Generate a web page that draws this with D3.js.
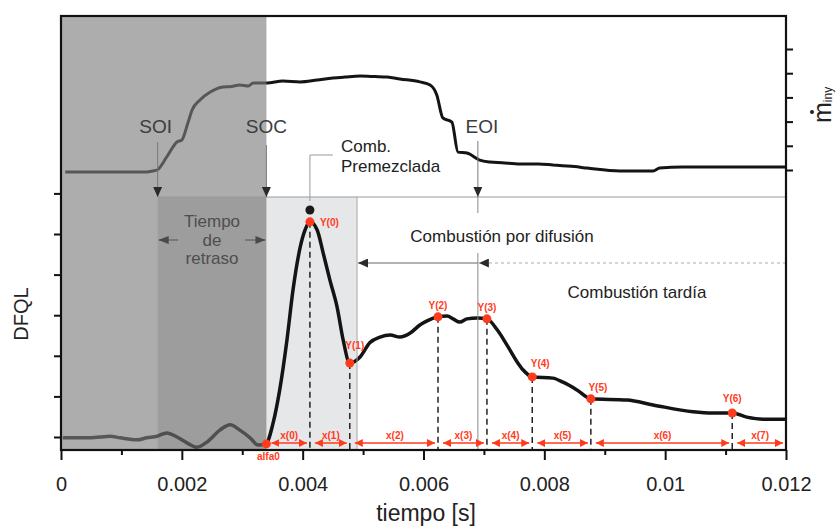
<!DOCTYPE html>
<html>
<head>
<meta charset="utf-8">
<script src="https://cdn.jsdelivr.net/npm/d3@7"></script>
<style>
  body { margin: 0; background: #fff; }
  svg { display: block; font-family: "Liberation Sans", Arial, Helvetica, sans-serif; }
</style>
</head>
<body>
<svg id="chart"></svg>
<script>
// ---- data ----
var xTickValues = [0, 0.002, 0.004, 0.006, 0.008, 0.01, 0.012];
var xTickLabels = ["0", "0.002", "0.004", "0.006", "0.008", "0.01", "0.012"];
var xMinorTicks = [0.001, 0.003, 0.005, 0.007, 0.009, 0.011];
var dfqlTicks = [0, 1, 2, 3, 4, 5, 6];
var minyTicks = [0, 1, 2, 3, 4, 5];

// injection rate (upper trace)
var minyTime = [0.00007, 0.00043, 0.00142, 0.00152, 0.00159, 0.00175, 0.00192, 0.00200, 0.00210, 0.00217,
    0.00230, 0.00247, 0.00268, 0.00282, 0.00296, 0.00310, 0.00318, 0.00341, 0.00367, 0.00396, 0.00424,
    0.00450, 0.00470, 0.00495, 0.00520, 0.00540, 0.00561, 0.00594, 0.00611, 0.00622, 0.00632, 0.00647,
    0.00657, 0.00672, 0.00693, 0.00710, 0.00730, 0.00760, 0.00790, 0.00814, 0.00850, 0.00871, 0.00925,
    0.00980, 0.00991, 0.01029, 0.01200];
var minyValue = [-0.08, -0.08, -0.08, -0.04, 0, 0.54, 1.16, 1.24, 1.94, 2.48,
    2.89, 3.22, 3.43, 3.45, 3.51, 3.47, 3.60, 3.60, 3.68, 3.64, 3.72,
    3.80, 3.84, 3.88, 3.86, 3.84, 3.76, 3.64, 3.51, 3.10, 2.15, 1.98,
    0.74, 0.70, 0.41, 0.33, 0.30, 0.25, 0.25, 0.21, 0.14, 0.08, -0.04,
    -0.04, 0.08, 0.12, 0.12];

// heat release rate (lower trace)
var dfqlTime = [0.00003, 0.00043, 0.00065, 0.00081, 0.00098, 0.00126, 0.00142, 0.00159, 0.00175, 0.00192,
    0.00209, 0.00225, 0.00242, 0.00263, 0.00280, 0.00296, 0.00313, 0.00326, 0.00339, 0.00351,
    0.00362, 0.00374, 0.00384, 0.00396, 0.00404, 0.00412, 0.00424, 0.00434, 0.00445, 0.00457,
    0.00467, 0.00478, 0.00495, 0.00511, 0.00528, 0.00545, 0.00561, 0.00578, 0.00594, 0.00606,
    0.00624, 0.00639, 0.00649, 0.00660, 0.00672, 0.00689, 0.00705, 0.00722, 0.00738, 0.00755,
    0.00765, 0.00780, 0.00814, 0.00831, 0.00854, 0.00877, 0.00937, 0.00980, 0.01046, 0.01079,
    0.01111, 0.01135, 0.01162, 0.01200];
var dfqlValue = [-0.02, -0.02, 0, 0.02, -0.02, -0.07, -0.02, 0.02, 0.10, 0,
    -0.15, -0.25, -0.12, 0.17, 0.30, 0.17, -0.02, -0.20, -0.17, 0.34,
    1.16, 2.39, 3.62, 4.68, 5.10, 5.30, 5.10, 4.53, 3.87, 3.20,
    2.39, 1.82, 1.97, 2.32, 2.46, 2.51, 2.46, 2.56, 2.76, 2.86,
    2.96, 2.98, 2.91, 2.83, 2.91, 2.93, 2.91, 2.64, 2.27, 1.85,
    1.65, 1.48, 1.45, 1.35, 1.16, 0.94, 0.91, 0.79, 0.62, 0.59,
    0.59, 0.49, 0.44, 0.44];

// events
var eventNames = ["SOI", "SOC", "EOI"];
var eventTimes = [0.0016, 0.0034, 0.0069];
var premixEnd = 0.0049;
var peakMarker = [0.00412, 5.59];

// characteristic points and intervals
var pointLabels = ["alfa0", "Y(0)", "Y(1)", "Y(2)", "Y(3)", "Y(4)", "Y(5)", "Y(6)"];
var pointTimes = [0.0034, 0.00412, 0.00478, 0.00624, 0.00705, 0.0078, 0.00877, 0.01111];
var pointValues = [-0.17, 5.30, 1.82, 2.96, 2.91, 1.48, 0.94, 0.59];
var intervalLabels = ["x(0)", "x(1)", "x(2)", "x(3)", "x(4)", "x(5)", "x(6)", "x(7)"];
var endTime = 0.012;

// ---- layout ----
var W = 836, H = 527;
var plotLeft = 61, plotRight = 786, plotTop = 16, plotBottom = 450, boxTop = 197;
var red = "#ff3b1d";

var x = d3.scaleLinear().domain([0, 0.012]).range([plotLeft, plotRight]);
var yD = d3.scaleLinear().domain([0, 6]).range([437, 193.4]);
var yM = d3.scaleLinear().domain([0, 5]).range([170, 49]);

var svg = d3.select("#chart").attr("width", W).attr("height", H);

var defs = svg.append("defs");
function marker(id, color, w, h) {
    defs.append("marker")
        .attr("id", id)
        .attr("viewBox", "0 0 10 10")
        .attr("preserveAspectRatio", "none")
        .attr("refX", 10).attr("refY", 5)
        .attr("markerWidth", w).attr("markerHeight", h)
        .attr("markerUnits", "userSpaceOnUse")
        .attr("orient", "auto-start-reverse")
        .append("path")
        .attr("d", "M0,0 L10,5 L0,10 Z")
        .attr("fill", color);
}
marker("headDark", "#2a2a2a", 10, 9);
marker("headGray", "#4a4a4a", 10, 8);
marker("headRed", red, 8, 8);

// premixed combustion box
svg.append("rect")
    .attr("x", x(eventTimes[1])).attr("y", boxTop)
    .attr("width", x(premixEnd) - x(eventTimes[1])).attr("height", plotBottom - boxTop)
    .attr("fill", "#e6e7e9");

// traces
var lineM = d3.line().x(function (d, i) { return x(minyTime[i]); })
    .y(function (d) { return yM(d); }).curve(d3.curveMonotoneX);
var lineD = d3.line().x(function (d, i) { return x(dfqlTime[i]); })
    .y(function (d) { return yD(d); }).curve(d3.curveMonotoneX);

svg.append("path").datum(minyValue).attr("d", lineM)
    .attr("fill", "none").attr("stroke", "#141414").attr("stroke-width", 3).attr("stroke-linejoin", "round");
svg.append("path").datum(dfqlValue).attr("d", lineD)
    .attr("fill", "none").attr("stroke", "#141414").attr("stroke-width", 3.5).attr("stroke-linejoin", "round");

// gray overlays (before SOC and ignition delay)
svg.append("rect")
    .attr("x", plotLeft).attr("y", plotTop)
    .attr("width", x(eventTimes[1]) - plotLeft).attr("height", plotBottom - plotTop)
    .attr("fill", "#7e7e7e").attr("fill-opacity", 0.635);
svg.append("rect")
    .attr("x", x(eventTimes[0])).attr("y", boxTop)
    .attr("width", x(eventTimes[1]) - x(eventTimes[0])).attr("height", plotBottom - boxTop)
    .attr("fill", "#000").attr("fill-opacity", 0.09);

// box lines
svg.append("line")
    .attr("x1", x(eventTimes[0])).attr("x2", plotRight).attr("y1", boxTop).attr("y2", boxTop)
    .attr("stroke", "#9a9a9a").attr("stroke-width", 1);
svg.append("line")
    .attr("x1", x(premixEnd)).attr("x2", x(premixEnd)).attr("y1", boxTop).attr("y2", plotBottom)
    .attr("stroke", "#a8a8a8").attr("stroke-width", 1);
svg.append("line")
    .attr("x1", x(eventTimes[2])).attr("x2", x(eventTimes[2])).attr("y1", boxTop).attr("y2", 213)
    .attr("stroke", "#8a8a8a").attr("stroke-width", 1);
svg.append("line")
    .attr("x1", x(eventTimes[2])).attr("x2", x(eventTimes[2])).attr("y1", 253).attr("y2", plotBottom)
    .attr("stroke", "#8a8a8a").attr("stroke-width", 1);

// event arrows and labels
var labelStart = [142, 145, 141];
var labelShift = [-2, 0, 4];
eventNames.forEach(function (name, i) {
    svg.append("line")
        .attr("x1", x(eventTimes[i])).attr("x2", x(eventTimes[i]))
        .attr("y1", labelStart[i]).attr("y2", boxTop)
        .attr("stroke", "#7a7a7a").attr("stroke-width", 1)
        .attr("marker-end", "url(#headDark)");
    svg.append("text")
        .attr("x", x(eventTimes[i]) + labelShift[i]).attr("y", 133)
        .attr("text-anchor", "middle").attr("font-size", 19).attr("fill", "#3c3c3c")
        .text(name);
});

// Comb. Premezclada bracket
svg.append("path")
    .attr("d", "M" + (x(pointTimes[1]) + 23) + ",155 H" + x(pointTimes[1]) + " V201")
    .attr("fill", "none").attr("stroke", "#9a9a9a").attr("stroke-width", 1);
svg.append("text").attr("x", 341).attr("y", 152).attr("font-size", 17).attr("fill", "#222").text("Comb.");
svg.append("text").attr("x", 341).attr("y", 172).attr("font-size", 17).attr("fill", "#222").text("Premezclada");

// Tiempo de retraso
var delayMid = (x(eventTimes[0]) + x(eventTimes[1])) / 2;
["Tiempo", "de", "retraso"].forEach(function (t, i) {
    svg.append("text").attr("x", delayMid).attr("y", 227 + i * 18.5)
        .attr("text-anchor", "middle").attr("font-size", 17).attr("fill", "#4e4e4e").text(t);
});
svg.append("line").attr("x1", 178).attr("x2", x(eventTimes[0]) + 1).attr("y1", 240).attr("y2", 240)
    .attr("stroke", "#555").attr("stroke-width", 1).attr("marker-end", "url(#headGray)");
svg.append("line").attr("x1", 245).attr("x2", x(eventTimes[1]) - 1).attr("y1", 240).attr("y2", 240)
    .attr("stroke", "#555").attr("stroke-width", 1).attr("marker-end", "url(#headGray)");

// diffusion / late combustion
svg.append("text").attr("x", 502).attr("y", 242).attr("text-anchor", "middle")
    .attr("font-size", 17).attr("fill", "#222").text("Combustión por difusión");
svg.append("line").attr("x1", x(eventTimes[2])).attr("x2", x(premixEnd) + 1).attr("y1", 263).attr("y2", 263)
    .attr("stroke", "#666").attr("stroke-width", 1).attr("marker-end", "url(#headDark)");
svg.append("line").attr("x1", plotRight).attr("x2", x(eventTimes[2]) + 1).attr("y1", 263).attr("y2", 263)
    .attr("stroke", "#aaa").attr("stroke-width", 1).attr("stroke-dasharray", "3,3")
    .attr("marker-end", "url(#headDark)");
svg.append("text").attr("x", 637).attr("y", 298).attr("text-anchor", "middle")
    .attr("font-size", 17).attr("fill", "#222").text("Combustión tardía");

// dashed drop lines
svg.selectAll(".drop").data(pointTimes.slice(1)).enter().append("line")
    .attr("class", "drop")
    .attr("x1", function (d) { return x(d); }).attr("x2", function (d) { return x(d); })
    .attr("y1", function (d, i) { return yD(pointValues[i + 1]); }).attr("y2", plotBottom)
    .attr("stroke", "#222").attr("stroke-width", 1.5).attr("stroke-dasharray", "6,4");

// interval arrows
var bounds = pointTimes.concat([endTime]);
intervalLabels.forEach(function (lab, i) {
    var a = x(bounds[i]) + 5, b = x(bounds[i + 1]) - 3;
    svg.append("line").attr("x1", a).attr("x2", b).attr("y1", 443).attr("y2", 443)
        .attr("stroke", red).attr("stroke-width", 1.5)
        .attr("marker-start", "url(#headRed)").attr("marker-end", "url(#headRed)");
    svg.append("text").attr("x", (a + b) / 2).attr("y", 439).attr("text-anchor", "middle")
        .attr("font-size", 10).attr("font-weight", "bold").attr("fill", red).text(lab);
});

// peak marker
svg.append("circle").attr("cx", x(peakMarker[0])).attr("cy", yD(peakMarker[1])).attr("r", 4.5).attr("fill", "#1a1a1a");

// characteristic points
svg.selectAll(".pt").data(pointTimes).enter().append("circle")
    .attr("class", "pt")
    .attr("cx", function (d) { return x(d); })
    .attr("cy", function (d, i) { return yD(pointValues[i]); })
    .attr("r", 4.5).attr("fill", red);

var labDx = [2, 10, 5, 0, 0, 8, 7, 0];
var labDy = [16, 4, -14, -8, -8, -10, -8, -11];
var labAnchor = ["middle", "start", "middle", "middle", "middle", "middle", "middle", "middle"];
pointLabels.forEach(function (lab, i) {
    svg.append("text")
        .attr("x", x(pointTimes[i]) + labDx[i])
        .attr("y", yD(pointValues[i]) + labDy[i])
        .attr("text-anchor", labAnchor[i])
        .attr("font-size", 10).attr("font-weight", "bold").attr("fill", red)
        .text(lab);
});

// axes
var xAxis = svg.append("g").attr("transform", "translate(0," + plotBottom + ")")
    .call(d3.axisBottom(x).tickValues(xTickValues).tickSize(10).tickPadding(17)
        .tickFormat(function (d, i) { return xTickLabels[i]; }));
xAxis.select(".domain").remove();
xAxis.selectAll("line").attr("stroke", "#111").attr("stroke-width", 2);
xAxis.selectAll("text").attr("font-size", 20).attr("fill", "#222")
    .attr("font-family", "Liberation Sans, Arial, sans-serif");

var xMinor = svg.append("g").attr("transform", "translate(0," + plotBottom + ")")
    .call(d3.axisBottom(x).tickValues(xMinorTicks).tickSize(5).tickFormat(""));
xMinor.select(".domain").remove();
xMinor.selectAll("line").attr("stroke", "#111").attr("stroke-width", 2);

var yAxisL = svg.append("g").attr("transform", "translate(" + plotLeft + ",0)")
    .call(d3.axisLeft(yD).tickValues(dfqlTicks).tickSize(7).tickFormat(""));
yAxisL.select(".domain").remove();
yAxisL.selectAll("line").attr("stroke", "#111").attr("stroke-width", 2);

var yAxisR = svg.append("g").attr("transform", "translate(" + plotRight + ",0)")
    .call(d3.axisRight(yM).tickValues(minyTicks).tickSize(7).tickFormat(""));
yAxisR.select(".domain").remove();
yAxisR.selectAll("line").attr("stroke", "#111").attr("stroke-width", 2);

// frame
svg.append("rect").attr("x", plotLeft).attr("y", plotTop)
    .attr("width", plotRight - plotLeft).attr("height", plotBottom - plotTop)
    .attr("fill", "none").attr("stroke", "#111").attr("stroke-width", 2.2);

// axis titles
svg.append("text").attr("x", 426).attr("y", 521).attr("text-anchor", "middle")
    .attr("font-size", 23).attr("fill", "#222").text("tiempo [s]");
svg.append("text").attr("transform", "translate(28,314) rotate(-90)")
    .attr("text-anchor", "middle").attr("font-size", 20).attr("fill", "#222").text("DFQL");
var mLab = svg.append("text").attr("transform", "translate(831,123) rotate(-90)")
    .attr("text-anchor", "start").attr("font-size", 25).attr("fill", "#222");
mLab.append("tspan").text("m");
mLab.append("tspan").attr("font-size", 12).attr("dy", 1).text("iny");
svg.append("circle").attr("cx", 812).attr("cy", 112).attr("r", 2).attr("fill", "#222");
</script>
</body>
</html>
